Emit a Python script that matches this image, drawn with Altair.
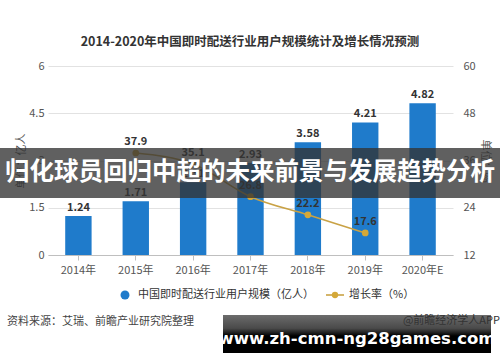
import altair as alt
import pandas as pd

years = ["2014年", "2015年", "2016年", "2017年", "2018年", "2019年", "2020年E"]
users = [1.24, 1.71, 2.31, 2.93, 3.58, 4.21, 4.82]
growth = [None, 37.9, 35.1, 26.8, 22.2, 17.6, None]
left_ticks = [0, 1.5, 3, 4.5, 6]
right_ticks = [12, 24, 36, 48, 60]

title_text = "2014-2020年中国即时配送行业用户规模统计及增长情况预测"
legend_bar = "中国即时配送行业用户规模（亿人）"
legend_line = "增长率（%）"
source_text = "资料来源：艾瑞、前瞻产业研究院整理"
brand_text = "@前瞻经济学人APP"
banner_text = "归化球员回归中超的未来前景与发展趋势分析"
url_text = "www.zh-cmn-ng28games.com"

FONT = "Noto Sans CJK SC"
BLUE = "#1f7bcb"
GOLD = "#c9a245"

df = pd.DataFrame({"year": years, "users": users, "growth": growth})
one = pd.DataFrame({"a": [0]})

xenc = alt.X("year:N", sort=years,
             scale=alt.Scale(paddingInner=0.54, paddingOuter=0.3),
             axis=alt.Axis(title=None, labelAngle=0, labelFont=FONT, labelFontSize=11,
                           labelColor="#555555", domainColor="#bfbfbf", tickColor="#bfbfbf",
                           tickSize=5, labelPadding=4))

yleft = alt.Y("users:Q", scale=alt.Scale(domain=[0, 6]),
              axis=alt.Axis(values=left_ticks, title="单位：亿人", titleFont=FONT,
                            titleFontSize=11, titleFontWeight="normal", titleColor="#555555",
                            titlePadding=2, labelFont=FONT, labelFontSize=11,
                            labelColor="#555555", domain=False, ticks=False, labelPadding=4,
                            gridColor="#e2e2e2", labelExpr="datum.value + ''"))
yright = alt.Y("growth:Q", scale=alt.Scale(domain=[12, 60]),
               axis=alt.Axis(orient="right", values=right_ticks, title="单位：%",
                             titleFont=FONT, titleFontSize=11, titleFontWeight="normal",
                             titleColor="#555555", titleAngle=90, titlePadding=4,
                             labelFont=FONT, labelFontSize=11, labelColor="#555555",
                             domain=False, ticks=False, grid=False, labelPadding=10))

base = alt.Chart(df)

bars = base.mark_bar(color=BLUE).encode(x=xenc, y=yleft)
bar_labels = base.mark_text(dy=-8, font=FONT, fontSize=11, color="#333333",
                            fontWeight="bold").encode(
    x=xenc, y=yleft, text=alt.Text("users:Q", format=".2f"))

left = alt.layer(bars, bar_labels)

line_base = base.transform_filter("isValid(datum.growth)")
line = line_base.mark_line(color=GOLD, strokeWidth=1.6, interpolate="monotone").encode(
    x=xenc, y=yright)
pts = line_base.mark_point(filled=True, color="#d4a838", size=45, opacity=1).encode(
    x=xenc, y=yright)
line_labels = line_base.mark_text(dy=-11, font=FONT, fontSize=11, color="#333333",
                                  fontWeight="bold").encode(
    x=xenc, y=yright, text=alt.Text("growth:Q", format=".1f"))

right = alt.layer(line, pts, line_labels)

main = alt.layer(left, right).resolve_scale(y="independent")

oc = alt.Chart(one)
title_mark = oc.mark_text(font=FONT, fontSize=12.5, fontWeight="bold", color="#333333",
                          text=title_text).encode(x=alt.value(202), y=alt.value(-24))
leg_dot = oc.mark_point(filled=True, color=BLUE, size=80, opacity=1, shape="circle").encode(
    x=alt.value(77), y=alt.value(229))
leg_t1 = oc.mark_text(font=FONT, fontSize=11, color="#333333", align="left",
                      text=legend_bar).encode(x=alt.value(90), y=alt.value(229))
leg_line = oc.mark_rule(color=GOLD, strokeWidth=1.6).encode(
    x=alt.value(278), x2=alt.value(296), y=alt.value(229))
leg_pt = oc.mark_point(filled=True, color="#d4a838", size=40, opacity=1).encode(
    x=alt.value(287), y=alt.value(229))
leg_t2 = oc.mark_text(font=FONT, fontSize=11, color="#333333", align="left",
                      text=legend_line).encode(x=alt.value(301), y=alt.value(229))
src = oc.mark_text(font=FONT, fontSize=11, color="#444444", align="left",
                   text=source_text).encode(x=alt.value(-41), y=alt.value(256))

banner = oc.mark_rect(color="#333333", opacity=0.78).encode(
    x=alt.value(-48), x2=alt.value(452), y=alt.value(82), y2=alt.value(132))
banner_t = oc.mark_text(font=FONT, fontSize=24.5, fontWeight="bold", color="white",
                        text=banner_text).encode(x=alt.value(202), y=alt.value(107))
box = oc.mark_rect(color=alt.Gradient(gradient="linear",
                                      stops=[alt.GradientStop(color="#6c6c6c", offset=0),
                                             alt.GradientStop(color="#4a4a4a", offset=0.35),
                                             alt.GradientStop(color="#000000", offset=0.55),
                                             alt.GradientStop(color="#000000", offset=1)],
                                      x1=0, x2=0, y1=0, y2=1)).encode(
    x=alt.value(175), x2=alt.value(443), y=alt.value(249), y2=alt.value(287))
brand = oc.mark_text(font=FONT, fontSize=11, color="#333333", align="right",
                     text=brand_text).encode(x=alt.value(452), y=alt.value(255))
url = oc.mark_text(font="DejaVu Sans", fontSize=16.5, fontWeight="bold", color="white",
                   text=url_text).encode(x=alt.value(309), y=alt.value(273))

chart = alt.layer(main, title_mark, leg_dot, leg_t1, leg_line, leg_pt, leg_t2, src,
                  banner, banner_t, box, brand, url).properties(
    width=405, height=189,
    autosize=alt.AutoSizeParams(type="none"),
    padding={"left": 48, "top": 66, "right": 47, "bottom": 107},
    background="white"
).configure_view(stroke=None)

chart.save("out.html", embed_options={"renderer": "svg", "actions": False})
